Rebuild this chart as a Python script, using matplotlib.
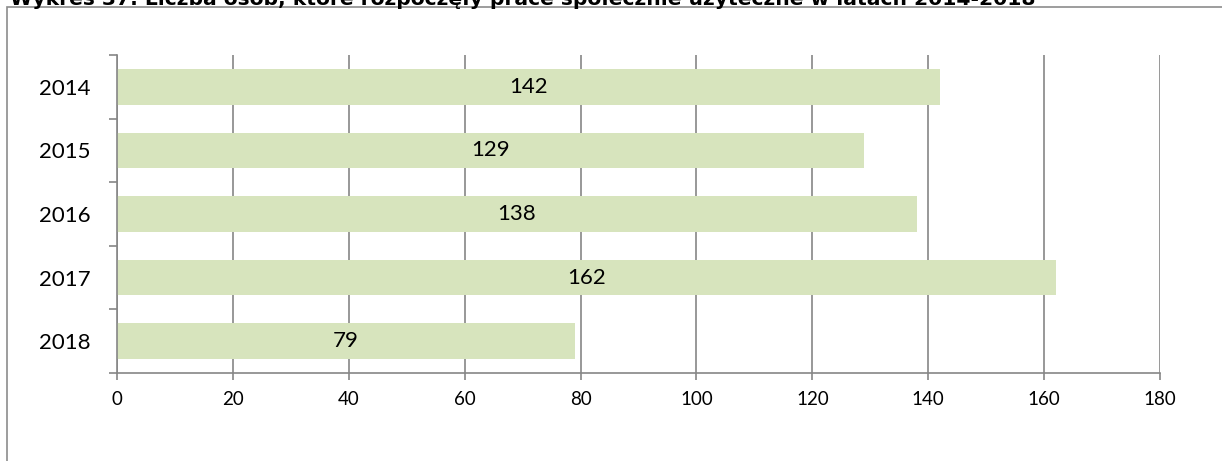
import numpy as np
import matplotlib.pyplot as plt
from matplotlib.patches import Rectangle

title = "Wykres 37. Liczba osób, które rozpoczęły prace społecznie użyteczne w latach 2014-2018"
years = ["2014", "2015", "2016", "2017", "2018"]
counts = [142, 129, 138, 162, 79]
x_ticks = list(range(0, 181, 20))

W, H = 1222, 461
fig = plt.figure(figsize=(W / 100, H / 100), dpi=100)
plt.rcParams['font.family'] = ['Lato', 'DejaVu Sans']

grey = "#868686"
bar_color = "#D7E4BD"

# outer chart border (clipped by the figure edge, like the screenshot)
fig.patches.append(Rectangle((7 / W, -0.1), 1.2, 1.1 - 7 / H, transform=fig.transFigure,
                             fill=False, edgecolor="#8C8C8C", lw=1.2))

# title, its upper half cut off by the top of the image as in the source
t = fig.text(10 / W, 1 - 5 / H, title, fontsize=14, fontweight="bold",
             family="DejaVu Sans", va="baseline", ha="left")
fig.canvas.draw()
w = t.get_window_extent().width
t.set_fontsize(14 * 1030 / w)

ax = fig.add_axes([117 / W, 1 - 373 / H, (1160 - 117) / W, (373 - 55) / H])
y = np.arange(len(years))
ax.barh(y, counts, height=0.56, color=bar_color, zorder=2)
for yi, c in zip(y, counts):
    ax.text(c / 2, yi, str(c), ha="center", va="center", fontsize=16, zorder=3)

ax.set_xlim(0, 180)
ax.set_ylim(len(years) - 0.5, -0.5)
ax.set_xticks(x_ticks)
ax.set_xticklabels([str(v) for v in x_ticks], fontsize=13.5)
ax.set_yticks(y)
ax.set_yticklabels(years, fontsize=16)
ax.set_yticks(np.arange(-0.5, len(years), 1), minor=True)

ax.tick_params(axis="y", which="major", length=0, pad=19)
ax.tick_params(axis="y", which="minor", length=6, width=1.2, color=grey, direction="out")
ax.tick_params(axis="x", length=5, width=1.2, color=grey, direction="out", pad=8)

ax.grid(axis="x", color=grey, lw=1.2, zorder=1)
ax.set_axisbelow(True)
for s in ["top", "right"]:
    ax.spines[s].set_visible(False)
for s in ["left", "bottom"]:
    ax.spines[s].set_color(grey)
    ax.spines[s].set_linewidth(1.2)

fig.savefig("out.png", dpi=100)
